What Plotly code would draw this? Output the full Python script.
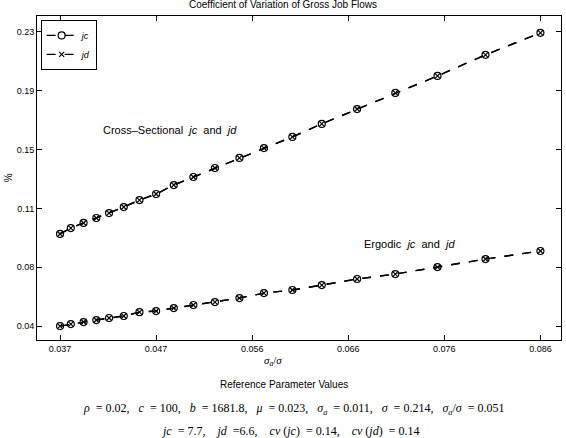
import numpy as np
import plotly.graph_objects as go

# sigma_a / sigma values (x axis)
ratio = [0.0370, 0.0381, 0.0394, 0.0407, 0.0420, 0.0435, 0.0451, 0.0468, 0.0486, 0.0506,
         0.0528, 0.0553, 0.0578, 0.0607, 0.0637, 0.0673, 0.0712, 0.0755, 0.0804, 0.0860]

# cross-sectional coefficients of variation
cs_jc = [0.0995, 0.1033, 0.1066, 0.1098, 0.1130, 0.1169, 0.1214, 0.1253, 0.1311, 0.1363,
         0.1421, 0.1486, 0.1550, 0.1622, 0.1706, 0.1802, 0.1906, 0.2016, 0.2152, 0.2294]
cs_jd = [0.0995, 0.1033, 0.1066, 0.1098, 0.1130, 0.1169, 0.1214, 0.1253, 0.1311, 0.1363,
         0.1421, 0.1486, 0.1550, 0.1622, 0.1706, 0.1802, 0.1906, 0.2016, 0.2152, 0.2294]

# ergodic coefficients of variation
erg_jc = [0.0400, 0.0413, 0.0426, 0.0439, 0.0452, 0.0465, 0.0490, 0.0497, 0.0516, 0.0536,
          0.0555, 0.0581, 0.0613, 0.0633, 0.0665, 0.0704, 0.0736, 0.0781, 0.0833, 0.0885]
erg_jd = [0.0400, 0.0413, 0.0426, 0.0439, 0.0452, 0.0465, 0.0490, 0.0497, 0.0516, 0.0536,
          0.0555, 0.0581, 0.0613, 0.0633, 0.0665, 0.0704, 0.0736, 0.0781, 0.0833, 0.0885]

x_ticktext = ["0.037", "0.047", "0.056", "0.066", "0.076", "0.086"]
y_ticktext = ["0.04", "0.08", "0.11", "0.15", "0.19", "0.23"]

x_tickvals = np.linspace(0.037, 0.086, len(x_ticktext))
y_tickvals = np.linspace(0.04, 0.23, len(y_ticktext))

SANS = "Liberation Sans, Arial, sans-serif"
SERIF = "Liberation Serif, DejaVu Serif, serif"
SP = "\u00a0"  # non-breaking space, so the wide gaps survive
GAP = SP * 3

jc_style = dict(mode="lines+markers", line=dict(color="black", width=1.4, dash="dash"),
                marker=dict(symbol="circle-open", size=7, color="black", line=dict(width=1.2)))
jd_style = dict(mode="lines+markers", line=dict(color="black", width=1.4, dash="dash"),
                marker=dict(symbol="x-thin-open", size=5, color="black", line=dict(width=1.2)))

fig = go.Figure()
fig.add_trace(go.Scatter(x=ratio, y=cs_jc, name="<i>jc</i>", legendgroup="jc", **jc_style))
fig.add_trace(go.Scatter(x=ratio, y=cs_jd, name="<i>jd</i>", legendgroup="jd", **jd_style))
fig.add_trace(go.Scatter(x=ratio, y=erg_jc, name="<i>jc</i>", legendgroup="jc",
                         showlegend=False, **jc_style))
fig.add_trace(go.Scatter(x=ratio, y=erg_jd, name="<i>jd</i>", legendgroup="jd",
                         showlegend=False, **jd_style))

axis_common = dict(showline=True, linecolor="black", linewidth=1, mirror="ticks",
                   ticks="inside", ticklen=5, tickcolor="black", showgrid=False,
                   zeroline=False, tickfont=dict(family=SANS, size=9, color="black"))

fig.update_xaxes(range=[0.03465, 0.0881], tickvals=x_tickvals, ticktext=x_ticktext,
                 automargin=False, **axis_common)
fig.update_yaxes(range=[0.031, 0.2403], tickvals=y_tickvals, ticktext=y_ticktext,
                 automargin=False, **axis_common)

line1 = (f"<i>ρ</i>{SP}{SP}={SP}0.02,{GAP}<i>c</i>{SP}{SP}={SP}100,{GAP}"
         f"<i>b</i>{SP}{SP}={SP}1681.8,{GAP}<i>μ</i>{SP}{SP}={SP}0.023,{GAP}"
         f"<i>σ<sub>a</sub></i>{SP}{SP}={SP}0.011,{GAP}<i>σ</i>{SP}{SP}={SP}0.214,{GAP}"
         f"<i>σ<sub>a</sub></i>/<i>σ</i>{SP}{SP}={SP}0.051")
line2 = (f"<i>jc</i>{SP}{SP}={SP}7.7,{GAP}{SP}<i>jd</i>{SP}{SP}=6.6,{GAP}{SP}"
         f"<i>cv</i>{SP}(<i>jc</i>){SP}{SP}={SP}0.14,{GAP}{SP}"
         f"<i>cv</i>{SP}(<i>jd</i>){SP}{SP}={SP}0.14")

notes = [
    dict(x=0.0482, y=0.1667, xref="x", yref="y",
         text=f"Cross\u2013Sectional{SP}{SP}<i>jc</i>{SP}{SP}and{SP}{SP}<i>jd</i>",
         font=dict(family=SANS, size=11)),
    dict(x=0.0726, y=0.0930, xref="x", yref="y",
         text=f"Ergodic{SP}{SP}<i>jc</i>{SP}{SP}and{SP}{SP}<i>jd</i>",
         font=dict(family=SANS, size=11)),
    dict(x=0.451, y=-0.065, xref="paper", yref="paper",
         text="<i>σ<sub>a</sub></i>/<i>σ</i>", font=dict(family=SERIF, size=11)),
    dict(x=0.471, y=-0.136, xref="paper", yref="paper",
         text="Reference Parameter Values", font=dict(family=SANS, size=10)),
    dict(x=0.490, y=-0.213, xref="paper", yref="paper", text=line1,
         font=dict(family=SERIF, size=12)),
    dict(x=0.482, y=-0.281, xref="paper", yref="paper", text=line2,
         font=dict(family=SERIF, size=12)),
    dict(x=-0.055, y=0.5, xref="paper", yref="paper", textangle=-90,
         text="%", font=dict(family=SANS, size=10)),
]
for n in notes:
    n.setdefault("showarrow", False)
    n["xanchor"] = "center"
    n["yanchor"] = "middle"
    n["font"]["color"] = "black"
    fig.add_annotation(**n)

fig.update_layout(
    width=566, height=438,
    margin=dict(l=37, r=5, t=16, b=98),
    paper_bgcolor="white", plot_bgcolor="white",
    title=dict(text="Coefficient of Variation of Gross Job Flows", x=0.5, xref="container",
               y=0.997, yref="container", yanchor="top",
               font=dict(family=SANS, size=10, color="black")),
    legend=dict(x=0.007, y=0.988, xanchor="left", yanchor="top", bgcolor="white",
                bordercolor="black", borderwidth=1, tracegroupgap=0, itemwidth=30,
                font=dict(family=SANS, size=9, color="black")),
)

# drop the browser's default page margin so the figure fills the window
fig.write_html("out.html", config={"displayModeBar": False},
               post_script="document.body.style.margin='0';")
